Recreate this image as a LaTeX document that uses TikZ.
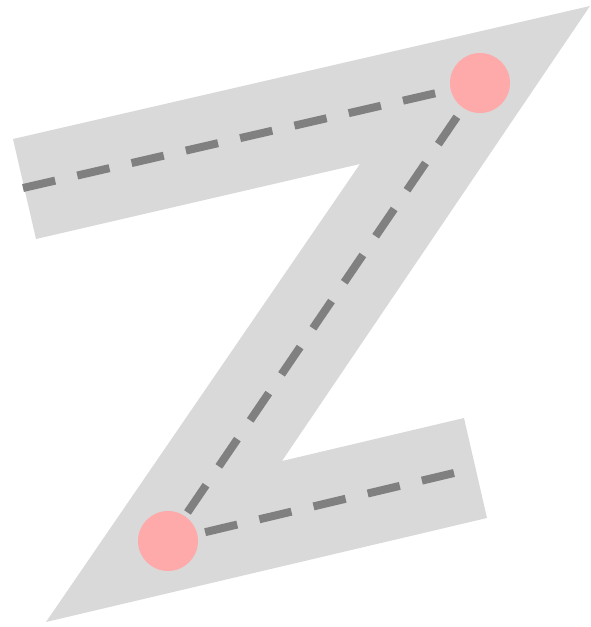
\documentclass[tikz,border=0pt]{standalone}
\usetikzlibrary{backgrounds}
\definecolor{zgray}{HTML}{D9D9D9}
\definecolor{dashgray}{HTML}{808080}
\definecolor{pinkdot}{HTML}{FFAAAA}
\begin{document}
\begin{tikzpicture}[x=1pt,y=-1pt,
  zshape/.style={fill=zgray,draw=none},
  route/.style={draw=dashgray,line width=8pt,dash pattern=on 33pt off 22.7pt},
  waypoint/.style={circle,fill=pinkdot,draw=none,minimum size=60pt,inner sep=0pt}]
\useasboundingbox (0,0) rectangle (591,627);
\coordinate (s) at (23,188);
\coordinate (e) at (454,473);
\node[waypoint] (p1) at (480,83) {};
\node[waypoint] (p2) at (168,541) {};
\begin{pgfonlayer}{background}
\fill[zshape] (13,139) -- (590,6) -- (282,461) -- (464,418) -- (487,518) -- (46,622) -- (360,164) -- (36,239) -- cycle;
\draw[route] (s) -- (p1.center);
\draw[route,dash phase=14.7pt] (p1.center) -- (p2.center);
\draw[route] (e) -- (p2.center);
\end{pgfonlayer}
\end{tikzpicture}
\end{document}
